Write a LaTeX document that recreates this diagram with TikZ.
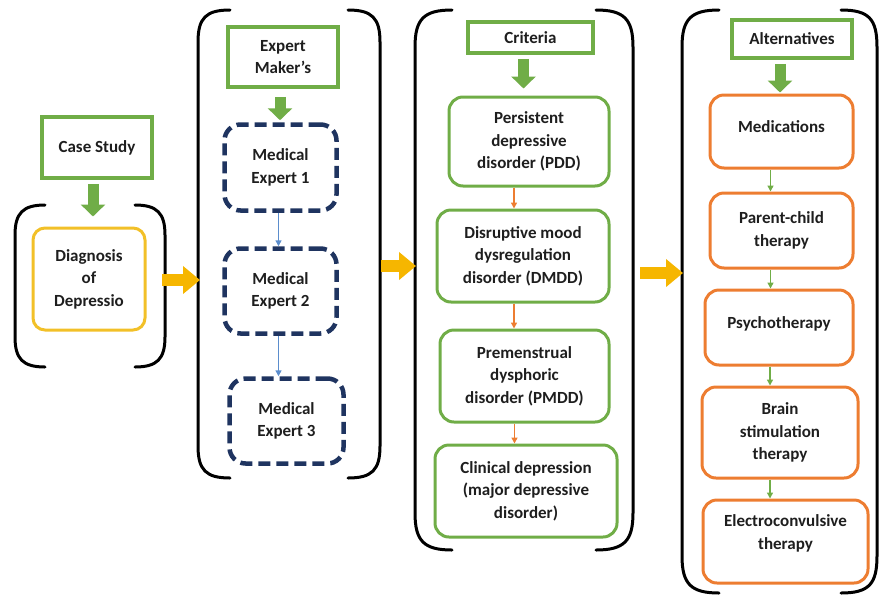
\documentclass[tikz,border=0pt]{standalone}
\usepackage{fontspec}
\setmainfont{Carlito}
\usetikzlibrary{arrows.meta, positioning}
\definecolor{boxgreen}{RGB}{112, 173, 71}
\definecolor{boxorange}{RGB}{237, 125, 49}
\definecolor{boxyellow}{RGB}{242, 192, 40}
\definecolor{arrowyellow}{RGB}{246, 182, 0}
\definecolor{expertnavy}{RGB}{31, 52, 96}
\definecolor{linkblue}{RGB}{91, 141, 205}
\definecolor{txtgray}{RGB}{30, 30, 30}

\begin{document}
\begin{tikzpicture}[x=1pt, y=-1pt,
  txt/.style={font=\fontsize{17}{22.5}\selectfont\bfseries, text=txtgray, align=center, inner sep=0pt},
  headbox/.style={txt, draw=boxgreen, line width=3.5pt},
  yellowbox/.style={txt, draw=boxyellow, line width=3pt, rounded corners=12pt},
  expertbox/.style={txt, draw=expertnavy, line width=4.5pt, dash pattern=on 12pt off 6pt, rounded corners=16pt},
  critbox/.style={txt, draw=boxgreen, line width=3pt, rounded corners=14pt},
  altbox/.style={txt, draw=boxorange, line width=3pt, rounded corners=14pt},
  bigdown/.style={boxgreen, line width=11pt, -{Triangle[length=12pt, width=24pt]}},
  bigright/.style={arrowyellow, line width=12pt, -{Triangle[length=17pt, width=27pt]}},
  thinlink/.style={line width=1.5pt, -{Triangle[length=6pt, width=6pt]}},
  bracket/.style={black, line width=3pt, line cap=round}
]
  \useasboundingbox (0, 0) rectangle (880, 595);

  % Case study and diagnosis
  \node[headbox, minimum width=110pt, minimum height=61pt] (case) at (97, 147.5) {Case Study};
  \node[yellowbox, minimum width=112pt, minimum height=102pt] (diag) at (89, 279) {Diagnosis\\of\\Depressio};
  \draw[bigdown, shorten <=4pt, shorten >=10pt] ([xshift=-4pt]case.south) -- ([xshift=-4pt]case.south |- diag.north);
  \draw[bracket] (45, 205) .. controls (23, 205) and (15, 213) .. (15, 235) -- (15, 337)
    .. controls (15, 359) and (23, 367) .. (45, 367);
  \draw[bracket] (135, 205) .. controls (157, 205) and (165, 213) .. (165, 235) -- (165, 337)
    .. controls (165, 359) and (157, 367) .. (135, 367);

  % Expert makers
  \node[headbox, minimum width=110pt, minimum height=60pt] (maker) at (283, 57) {Expert\\Maker’s};
  \node[expertbox, minimum width=112pt, minimum height=86pt] (med1) at (280.5, 167.5) {Medical\\Expert 1};
  \node[expertbox, minimum width=112pt, minimum height=85pt] (med2) at (280.5, 291) {Medical\\Expert 2};
  \node[expertbox, minimum width=114pt, minimum height=85pt] (med3) at (286.5, 421) {Medical\\Expert 3};
  \draw[bigdown, shorten <=8pt, shorten >=2pt] ([xshift=-3pt]maker.south) -- ([xshift=-3pt]maker.south |- med1.north);
  \draw[thinlink, linkblue] ([xshift=-2pt]med1.south) -- ([xshift=-2pt]med1.south |- med2.north);
  \draw[thinlink, linkblue] ([xshift=-2pt]med2.south) -- ([xshift=-2pt]med2.south |- med3.north);
  \draw[bracket] (230, 10) .. controls (206, 10) and (198, 18) .. (198, 42) -- (198, 446)
    .. controls (198, 470) and (206, 478) .. (230, 478);
  \draw[bracket] (348, 10) .. controls (372, 10) and (380, 18) .. (380, 42) -- (380, 446)
    .. controls (380, 470) and (372, 478) .. (348, 478);

  % Criteria
  \node[headbox, minimum width=125pt, minimum height=31pt] (crit) at (530.5, 37.5) {Criteria};
  \node[critbox, minimum width=160pt, minimum height=89pt] (pdd) at (529, 141.5) {Persistent\\depressive\\disorder (PDD)};
  \node[critbox, minimum width=172pt, minimum height=92pt] (dmdd) at (523, 256) {Disruptive mood\\dysregulation\\disorder (DMDD)};
  \node[critbox, minimum width=169pt, minimum height=92pt] (pmdd) at (524.5, 376) {Premenstrual\\dysphoric\\disorder (PMDD)};
  \node[critbox, minimum width=182pt, minimum height=92pt] (clin) at (526, 491) {Clinical depression\\(major depressive\\disorder)};
  \draw[bigdown, shorten <=4pt, shorten >=7pt] ([xshift=-7pt]crit.south) -- ([xshift=-7pt]crit.south |- pdd.north);
  \draw[thinlink, boxorange] ([xshift=-15pt]pdd.south) -- ([xshift=-15pt]pdd.south |- dmdd.north);
  \draw[thinlink, boxorange] ([xshift=-9pt]dmdd.south) -- ([xshift=-9pt]dmdd.south |- pmdd.north);
  \draw[thinlink, boxorange] ([xshift=-10pt]pmdd.south) -- ([xshift=-10pt]pmdd.south |- clin.north);
  \draw[bracket] (452, 10) .. controls (424, 10) and (415, 19) .. (415, 47) -- (415, 513)
    .. controls (415, 541) and (424, 550) .. (452, 550);
  \draw[bracket] (596, 10) .. controls (624, 10) and (633, 19) .. (633, 47) -- (633, 513)
    .. controls (633, 541) and (624, 550) .. (596, 550);

  % Alternatives
  \node[headbox, minimum width=120pt, minimum height=38pt] (alt) at (792, 39) {Alternatives};
  \node[altbox, minimum width=143pt, minimum height=73pt] (meds) at (781.5, 131.5) {\raisebox{10pt}{Medications}};
  \node[altbox, minimum width=143pt, minimum height=75pt] (parent) at (781.5, 230.5) {Parent-child\\therapy};
  \node[altbox, minimum width=148pt, minimum height=75pt] (psycho) at (779, 327.5) {\raisebox{10pt}{Psychotherapy}};
  \node[altbox, minimum width=156pt, minimum height=91pt] (brain) at (780, 432.5) {Brain\\stimulation\\therapy};
  \node[altbox, minimum width=165pt, minimum height=83pt] (ect) at (785.5, 541.5) {Electroconvulsive\\therapy\\[-10pt]\strut};
  \draw[bigdown, shorten <=4pt, shorten >=1pt] ([xshift=-12pt]alt.south) -- ([xshift=-12pt]alt.south |- meds.north);
  \draw[thinlink, boxgreen] ([xshift=-11pt]meds.south) -- ([xshift=-11pt]meds.south |- parent.north);
  \draw[thinlink, boxgreen] ([xshift=-11pt]parent.south) -- ([xshift=-11pt]parent.south |- psycho.north);
  \draw[thinlink, boxgreen] ([xshift=-9pt]psycho.south) -- ([xshift=-9pt]psycho.south |- brain.north);
  \draw[thinlink, boxgreen] ([xshift=-10pt]brain.south) -- ([xshift=-10pt]brain.south |- ect.north);
  \draw[bracket] (719, 10) .. controls (691, 10) and (682, 19) .. (682, 47) -- (682, 556)
    .. controls (682, 584) and (691, 593) .. (719, 593);
  \draw[bracket] (841, 10) .. controls (869, 10) and (877, 19) .. (877, 47) -- (877, 556)
    .. controls (877, 584) and (869, 593) .. (841, 593);

  % Links between the groups
  \coordinate (b1east) at (162, 280);
  \coordinate (b2west) at (200, 280);
  \coordinate (b2east) at (381, 266);
  \coordinate (b3west) at (416, 266);
  \coordinate (b3east) at (640, 273);
  \coordinate (b4west) at (683, 273);
  \draw[bigright] (b1east) -- (b2west);
  \draw[bigright] (b2east) -- (b3west);
  \draw[bigright] (b3east) -- (b4west);
\end{tikzpicture}
\end{document}
